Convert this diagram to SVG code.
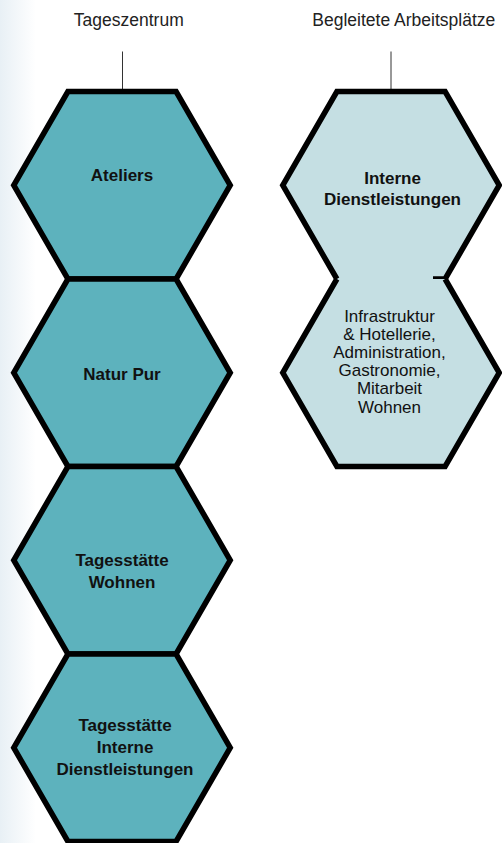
<svg xmlns="http://www.w3.org/2000/svg" xmlns:xlink="http://www.w3.org/1999/xlink" width="502" height="843" viewBox="0 0 502 843">
  <defs>
    <linearGradient id="bg" x1="0" y1="0" x2="1" y2="0">
      <stop offset="0" stop-color="#e8f0f5"/>
      <stop offset="1" stop-color="#ffffff"/>
    </linearGradient>
    <polygon id="hex" points="-54.1,-93.75 54.1,-93.75 108.25,0 54.1,93.75 -54.1,93.75 -108.25,0"/>
  </defs>
  <style>
    .dark { fill: #5db2bd; stroke: #000; stroke-width: 5.5; stroke-linejoin: miter; }
    .lightfill { fill: #c5dfe3; stroke: none; }
    .outline { fill: none; stroke: #000; stroke-width: 5.5; stroke-linejoin: miter; }
    .conn { stroke: #333; stroke-width: 1; fill: none; }
    .head { font-family: "Liberation Sans", Arial, sans-serif; font-size: 17.5px; fill: #222; text-anchor: middle; }
    .bold { font-family: "Liberation Sans", Arial, sans-serif; font-size: 17px; font-weight: bold; fill: #111; text-anchor: middle; }
    .reg { font-family: "Liberation Sans", Arial, sans-serif; font-size: 17px; fill: #111; text-anchor: middle; }
  </style>
  <rect x="0" y="0" width="36" height="843" fill="url(#bg)"/>

  <g id="labels">
    <text class="head" x="128.8" y="25.5">Tageszentrum</text>
    <text class="head" x="403.8" y="25.5">Begleitete Arbeitsplätze</text>
  </g>

  <g id="connectors">
    <line class="conn" x1="122.5" y1="51.5" x2="122.5" y2="90"/>
    <line class="conn" x1="391" y1="51.5" x2="391" y2="90"/>
  </g>

  <g id="ateliers">
    <use xlink:href="#hex" href="#hex" class="dark" x="122" y="185.25"/>
    <text class="bold" x="122" y="181">Ateliers</text>
  </g>
  <g id="natur-pur">
    <use xlink:href="#hex" href="#hex" class="dark" x="122" y="372.75"/>
    <text class="bold" x="122" y="380">Natur Pur</text>
  </g>
  <g id="tagesstaette-wohnen">
    <use xlink:href="#hex" href="#hex" class="dark" x="122" y="560.25"/>
    <text class="bold" x="122" y="566">Tagesstätte</text>
    <text class="bold" x="122" y="588">Wohnen</text>
  </g>
  <g id="tagesstaette-interne">
    <use xlink:href="#hex" href="#hex" class="dark" x="122" y="747.75"/>
    <text class="bold" x="125" y="731">Tagesstätte</text>
    <text class="bold" x="125" y="753">Interne</text>
    <text class="bold" x="125" y="775">Dienstleistungen</text>
  </g>

  <g id="interne-dienstleistungen">
    <use xlink:href="#hex" href="#hex" class="lightfill" x="391" y="185.25"/>
    <path class="outline" d="M336.9,279 L282.75,185.25 L336.9,91.5 L445.1,91.5 L499.25,185.25 L445.1,279 L433,279"/>
    <text class="bold" x="392.5" y="184">Interne</text>
    <text class="bold" x="392.5" y="205">Dienstleistungen</text>
  </g>
  <g id="infrastruktur">
    <use xlink:href="#hex" href="#hex" class="lightfill" x="391" y="372.75"/>
    <path class="outline" d="M445.1,279 L499.25,372.75 L445.1,466.5 L336.9,466.5 L282.75,372.75 L336.9,279"/>
    <text class="reg" x="389.5" y="321.7">Infrastruktur</text>
    <text class="reg" x="389.5" y="339.9">&amp; Hotellerie,</text>
    <text class="reg" x="389.5" y="358.1">Administration,</text>
    <text class="reg" x="389.5" y="376.2">Gastronomie,</text>
    <text class="reg" x="389.5" y="394.4">Mitarbeit</text>
    <text class="reg" x="389.5" y="412.5">Wohnen</text>
  </g>
</svg>
